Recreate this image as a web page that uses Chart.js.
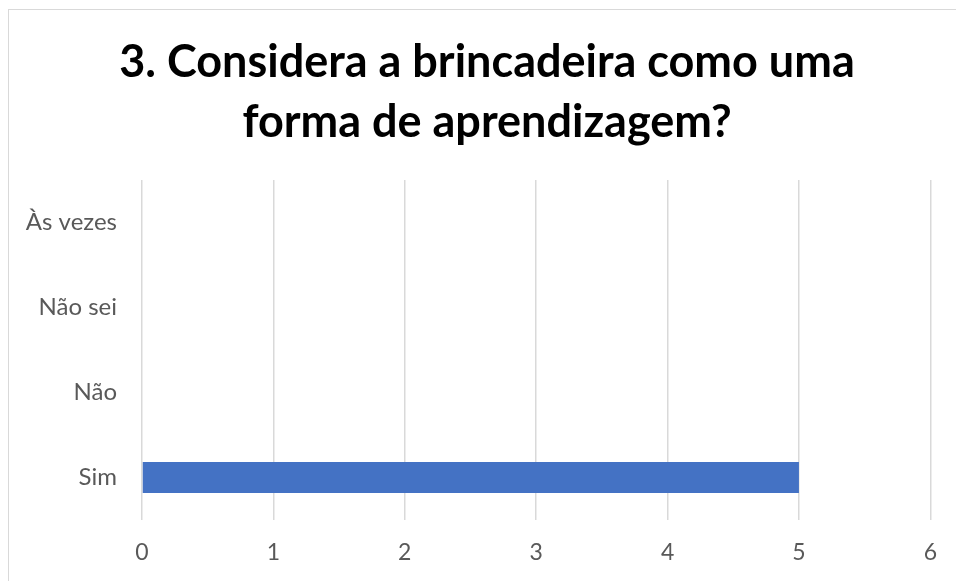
<!DOCTYPE html>
<html>
<head>
<meta charset="utf-8">
<script src="https://cdn.jsdelivr.net/npm/chart.js@4"></script>
<style>
  html, body { margin: 0; padding: 0; background: #fff; overflow: hidden; }
  #wrap { position: relative; width: 956px; height: 581px; }
  #frame { position: absolute; left: 8px; top: 9px; width: 1000px; height: 1000px;
           border: 1px solid #d9d9d9; pointer-events: none; }
</style>
</head>
<body>
<div id="wrap">
  <canvas id="chart" width="956" height="581"></canvas>
  <div id="frame"></div>
</div>
<script>
// Chart data (Excel order: first category sits at the bottom)
const categories = ["Sim", "Não", "Não sei", "Às vezes"]
const answers = [5, 0, 0, 0]
const titleLines = ["3. Considera a brincadeira como uma", "forma de aprendizagem?"]
const xMin = 0
const xMax = 6

const labelColor = "#595959"
const gridColor = "#d9d9d9"

// Title centred on the chart frame (not on the canvas), like the Excel original
const frameTitle = {
  id: "frameTitle",
  afterDraw(chart) {
    const ctx = chart.ctx
    ctx.save()
    ctx.fillStyle = "#000"
    ctx.font = "bold 45px Lato"
    ctx.textAlign = "center"
    ctx.textBaseline = "middle"
    titleLines.forEach((line, i) => ctx.fillText(line, 487, 62 + i * 60))
    ctx.restore()
  },
}

new Chart(document.getElementById("chart"), {
  type: "bar",
  data: {
    labels: categories,
    datasets: [{
      data: answers,
      backgroundColor: "#4472c4",
      borderWidth: 0,
      categoryPercentage: 1,
      barPercentage: 0.365,
    }],
  },
  options: {
    indexAxis: "y",
    responsive: false,
    animation: false,
    layout: { padding: { left: 0, right: 24, top: 180, bottom: 0 } },
    plugins: {
      legend: { display: false },
      tooltip: { enabled: false },
      title: { display: false },
    },
    scales: {
      x: {
        min: xMin,
        max: xMax,
        ticks: {
          stepSize: 1,
          color: labelColor,
          padding: 19,
          font: { family: "Lato", size: 23 },
        },
        grid: { color: gridColor, lineWidth: 1.5, drawTicks: false },
        border: { display: false },
        afterFit: (scale) => { scale.height = 61 },
      },
      y: {
        reverse: true,
        ticks: {
          color: labelColor,
          padding: 25,
          font: { family: "Lato", size: 24 },
        },
        grid: { display: false, drawTicks: false },
        border: { display: false },
        afterFit: (scale) => { scale.width = 142 },
      },
    },
  },
  plugins: [frameTitle],
})
</script>
</body>
</html>
